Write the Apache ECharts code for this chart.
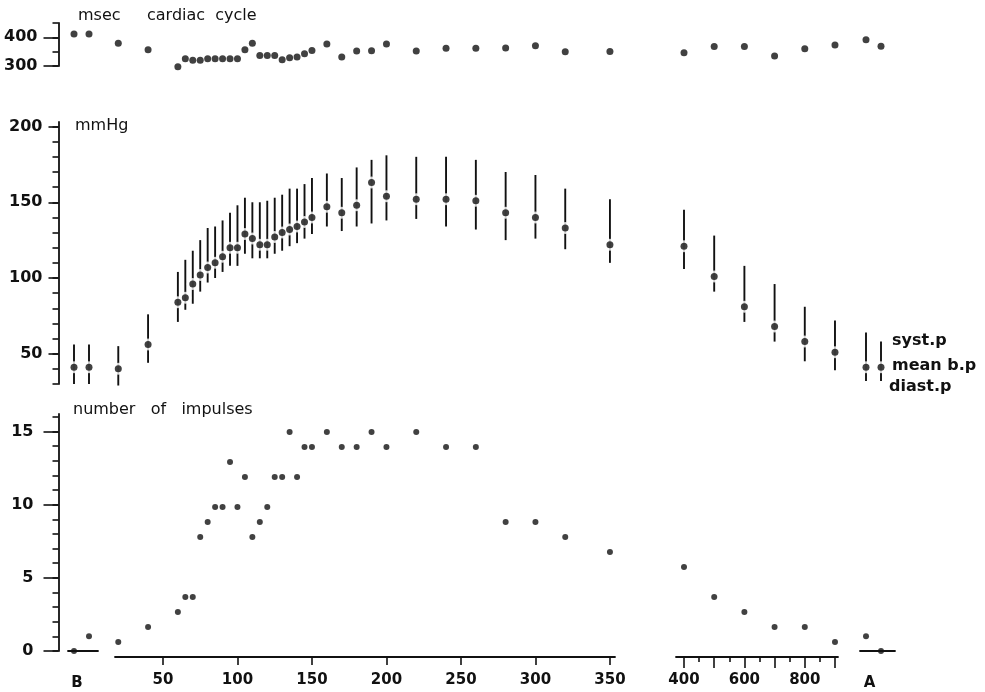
<!DOCTYPE html>
<html>
<head>
<meta charset="utf-8">
<script src="https://cdn.jsdelivr.net/npm/echarts@6/dist/echarts.min.js"></script>
<style>
  html, body { margin: 0; padding: 0; background: #ffffff; }
  #chart { width: 985px; height: 692px; }
</style>
</head>
<body>
<div id="chart"></div>
<script>
// Stimulation rate for each measurement: B = before, A = after stimulation
const stimRate = ['B', 'B', 20, 40, 60, 65, 70, 75, 80, 85, 90, 95, 100, 105, 110, 115, 120, 125,
  130, 135, 140, 145, 150, 160, 170, 180, 190, 200, 220, 240, 260, 280, 300, 320, 350,
  400, 500, 600, 700, 800, 900, 'A', 'A'];

// Cardiac cycle length (msec)
const cycleMsec = [412, 412, 379, 357, 297, 325, 320, 320, 325, 325, 325, 325, 325, 357, 379, 337, 337, 337,
  322, 329, 331, 343, 354, 377, 331, 352, 353, 377, 352, 362, 362, 363, 371, 350, 351,
  346, 368, 368, 335, 360, 373, 392, 369];

// Blood pressure (mmHg)
const systolicP = [56, 56, 55, 76, 104, 112, 118, 125, 133, 134, 138, 143, 148, 153, 150, 150, 151, 153,
  155, 159, 159, 162, 166, 169, 166, 173, 178, 181, 180, 180, 178, 170, 168, 159, 152,
  145, 128, 108, 96, 81, 72, 64, 58];
const meanBP = [41, 41, 40, 56, 84, 87, 96, 102, 107, 110, 114, 120, 120, 129, 126, 122, 122, 127,
  130, 132, 134, 137, 140, 147, 143, 148, 163, 154, 152, 152, 151, 143, 140, 133, 122,
  121, 101, 81, 68, 58, 51, 41, 41];
const diastolicP = [30, 30, 29, 44, 71, 79, 83, 91, 97, 100, 104, 108, 108, 116, 113, 113, 113, 116,
  118, 121, 123, 126, 129, 134, 131, 134, 136, 138, 139, 134, 132, 125, 126, 119, 110,
  106, 91, 71, 58, 45, 39, 32, 32];

// Number of impulses
const impulses = [0, 1, 1, 2, 3, 4, 4, 8, 9, 10, 10, 13, 10, 12, 8, 9, 10, 12,
  12, 15, 12, 14, 14, 15, 14, 14, 15, 14, 15, 14, 14, 9, 9, 8, 7,
  6, 4, 3, 2, 2, 1, 1, 0];

// Tick marks and labels
const rateTicksLow = [50, 100, 150, 200, 250, 300, 350];
const rateTicksHigh = [400, 500, 600, 700, 800, 900];
const rateTicksHighMinor = [450, 550, 650, 750, 850];
const rateLabelsHigh = [400, 600, 800];
const cycleTicks = [300, 350, 400, 450];
const cycleLabels = [300, 400];
const pressureTicks = [30, 40, 50, 60, 70, 80, 90, 100, 110, 120, 130, 140, 150, 160, 170, 180, 190, 200];
const pressureLabels = [50, 100, 150, 200];
const impulseTicks = [0, 1, 2, 3, 4, 5, 6, 7, 8, 9, 10, 11, 12, 13, 14, 15, 16];
const impulseLabels = [0, 5, 10, 15];

const INK = '#111111';
const FONT = '"DejaVu Sans", "Liberation Sans", sans-serif';

// Broken rate axis: before block, 20-350, 400-900, after block
const SEGMENTS = [
  { left: 68, width: 30, min: 0.6, max: 2.6 },
  { left: 115, width: 500, min: 17.8, max: 353.4 },
  { left: 676, width: 162, min: 373.5, max: 910 },
  { left: 860, width: 35, min: 0.6, max: 2.933 }
];

// Three stacked panels
const PANELS = [
  { top: 23, height: 43, min: 300, max: 450, ticks: cycleTicks, labels: cycleLabels, margin: 21, longTick: 15 },
  { top: 122, height: 262, min: 30, max: 203, ticks: pressureTicks, labels: pressureLabels, margin: 16, longTick: 10 },
  { top: 414, height: 243, min: 0, max: 16.2, ticks: impulseTicks, labels: impulseLabels, margin: 25, longTick: 15 }
];

function placeOf(i) {
  const r = stimRate[i];
  if (typeof r === 'number') return { seg: r < 375 ? 1 : 2, x: r };
  let n = 0;
  for (let k = 0; k <= i; k++) if (stimRate[k] === r) n++;
  return { seg: r === 'B' ? 0 : 3, x: n };
}

function splitBySegment(build) {
  const out = [[], [], [], []];
  stimRate.forEach((_, i) => {
    const p = placeOf(i);
    out[p.seg].push(build(p.x, i));
  });
  return out;
}

const lineStyle = { color: INK, width: 1.8 };
const tickStyle = { color: INK, width: 1.6 };
const grids = [], xAxes = [], yAxes = [], extraX = [], extraY = [];

PANELS.forEach((p, pi) => {
  SEGMENTS.forEach((s, si) => {
    const gi = grids.length;
    grids.push({ left: s.left, width: s.width, top: p.top, height: p.height });
    const bottom = pi === 2;
    const nameLabel = si === 0 ? 'B' : (si === 3 ? 'A' : '');
    xAxes.push({
      type: 'value', gridIndex: gi, position: 'bottom', min: s.min, max: s.max, show: bottom,
      axisLine: { show: true, onZero: false, lineStyle },
      axisTick: si === 1 ? { show: true, customValues: rateTicksLow, length: 8, lineStyle: tickStyle }
        : si === 2 ? { show: true, customValues: rateTicksHigh, length: 11, lineStyle: tickStyle }
        : { show: false },
      axisLabel: si === 1 ? { customValues: rateTicksLow, margin: 16, fontSize: 15, fontWeight: 'bold', color: INK, fontFamily: FONT }
        : si === 2 ? { customValues: rateLabelsHigh, margin: 16, fontSize: 15, fontWeight: 'bold', color: INK, fontFamily: FONT }
        : { show: false },
      splitLine: { show: false },
      name: nameLabel, nameLocation: 'middle', nameGap: 25,
      nameTextStyle: { fontSize: 15, fontWeight: 'bold', color: INK, fontFamily: FONT,
        padding: si === 0 ? [0, 12, 0, 0] : [0, 16, 0, 0] }
    });
    if (bottom && si === 2) {
      extraX.push({
        type: 'value', gridIndex: gi, position: 'bottom', min: s.min, max: s.max,
        axisLine: { show: false },
        axisTick: { show: true, customValues: rateTicksHighMinor, length: 5, lineStyle: tickStyle },
        axisLabel: { show: false }, splitLine: { show: false }
      });
    }
    yAxes.push({
      type: 'value', gridIndex: gi, position: 'left', min: p.min, max: p.max, show: si === 0, offset: 9.5,
      axisLine: { show: true, onZero: false, lineStyle },
      axisTick: { show: true, customValues: p.ticks, length: 6, lineStyle: tickStyle },
      axisLabel: { customValues: p.labels, margin: p.margin, fontSize: 16, fontWeight: 'bold', color: INK, fontFamily: FONT },
      splitLine: { show: false }
    });
    if (si === 0) {
      extraY.push({
        type: 'value', gridIndex: gi, position: 'left', min: p.min, max: p.max, offset: 9.5,
        axisLine: { show: false },
        axisTick: { show: true, customValues: p.labels, length: p.longTick, lineStyle: tickStyle },
        axisLabel: { show: false }, splitLine: { show: false }
      });
    }
  });
});

const series = [];
const cycleData = splitBySegment((x, i) => [x, cycleMsec[i]]);
const barData = splitBySegment((x, i) => [x, systolicP[i], diastolicP[i]]);
const meanData = splitBySegment((x, i) => [x, meanBP[i]]);
const impulseData = splitBySegment((x, i) => [x, impulses[i]]);

SEGMENTS.forEach((s, si) => {
  // cardiac cycle dots
  series.push({
    type: 'scatter', xAxisIndex: si, yAxisIndex: si, data: cycleData[si],
    symbol: 'circle', symbolSize: 7, itemStyle: { color: INK }, clip: false, silent: true
  });
  // systolic-diastolic range bars
  series.push({
    type: 'custom', xAxisIndex: 4 + si, yAxisIndex: 4 + si, data: barData[si],
    encode: { x: 0, y: [1, 2] }, z: 2, silent: true,
    renderItem: (params, api) => {
      const x = api.value(0);
      const hi = api.coord([x, api.value(1)]);
      const lo = api.coord([x, api.value(2)]);
      return {
        type: 'line',
        shape: { x1: hi[0], y1: hi[1], x2: lo[0], y2: lo[1] },
        style: { stroke: INK, lineWidth: 1.9 }
      };
    }
  });
  // white halo that opens a gap in the bar around the mean
  series.push({
    type: 'scatter', xAxisIndex: 4 + si, yAxisIndex: 4 + si, data: meanData[si], z: 4,
    symbol: 'circle', symbolSize: 12, itemStyle: { color: '#ffffff' }, clip: false, silent: true
  });
  // mean pressure dots
  series.push({
    type: 'scatter', xAxisIndex: 4 + si, yAxisIndex: 4 + si, data: meanData[si], z: 5,
    symbol: 'circle', symbolSize: 7, itemStyle: { color: INK }, clip: false, silent: true
  });
  // impulse counts
  series.push({
    type: 'scatter', xAxisIndex: 8 + si, yAxisIndex: 8 + si, data: impulseData[si],
    symbol: 'circle', symbolSize: 6, itemStyle: { color: INK }, clip: false, silent: true, z: 5
  });
});

const titleStyle = { fontFamily: FONT, fontSize: 16, fontWeight: 'normal', color: INK };
const keyStyle = { fontFamily: FONT, fontSize: 16, fontWeight: 'bold', color: INK };

const option = {
  animation: false,
  backgroundColor: '#ffffff',
  title: [
    { text: 'msec', left: 78, top: 8, padding: 0, textStyle: titleStyle },
    { text: 'cardiac  cycle', left: 147, top: 8, padding: 0, textStyle: titleStyle },
    { text: 'mmHg', left: 75, top: 118, padding: 0, textStyle: titleStyle },
    { text: 'number   of   impulses', left: 73, top: 402, padding: 0, textStyle: titleStyle },
    { text: 'syst.p', left: 892, top: 333, padding: 0, textStyle: keyStyle },
    { text: 'mean b.p', left: 892, top: 358, padding: 0, textStyle: keyStyle },
    { text: 'diast.p', left: 889, top: 379, padding: 0, textStyle: keyStyle }
  ],
  grid: grids,
  xAxis: xAxes.concat(extraX),
  yAxis: yAxes.concat(extraY),
  series
};

const chart = echarts.init(document.getElementById('chart'));
chart.setOption(option);
</script>
</body>
</html>
